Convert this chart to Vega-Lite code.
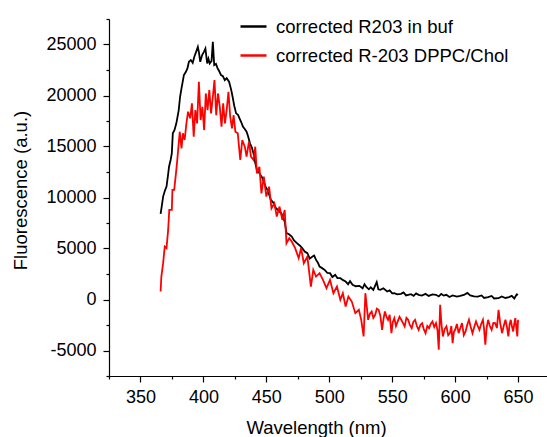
{
"$schema": "https://vega.github.io/schema/vega-lite/v6.json",
"width": 438, "height": 357,
"autosize": {"type": "none"},
"padding": {"left": 109, "top": 19, "right": 0, "bottom": 61},
"config": {"view": {"stroke": null}, "font": "Liberation Sans"},
"datasets": {
"b": [[366,8390],[367,9200],[368,10090],[369.5,10700],[370.7,11065],[372,12300],[372.7,13020],[374,13700],[374.9,14330],[375.7,16290],[377,16600],[378.5,17270],[380.4,18570],[381.5,19900],[382.6,20700],[384.5,22000],[386,22300],[387.3,22650],[388.5,23300],[390,23470],[391.5,23200],[392.8,23800],[394,24200],[395.6,24770],[396.5,24200],[397.5,23300],[399,23960],[400.5,24300],[401.6,24600],[403,23140],[404,23600],[405,23140],[406.5,23400],[407.5,25260],[408.6,22980],[410,23100],[411.3,22650],[412.5,22400],[414,22000],[415.5,21900],[417,21500],[418.5,21700],[420.4,21350],[422,20600],[423.2,19880],[424.5,19000],[426,18250],[427.5,18100],[428.7,17760],[430,17400],[431.5,16940],[433,16700],[434.3,16450],[435.5,16000],[437,15310],[438.5,14900],[439.8,14330],[441,13500],[442.5,12700],[444,12500],[445.3,12200],[447,11900],[449.4,11065],[451.5,10600],[453.6,9760],[455.5,9500],[457.7,8940],[460,8700],[461.9,8450],[463.5,8000],[464.6,7640],[466,6500],[468,6400],[470.2,6170],[472,5800],[474.3,5520],[476.5,5300],[478.5,5030],[480.5,4700],[482.6,4540],[484.5,4000],[486.7,4210],[488,4300],[489.5,3880],[491,3600],[492.3,3230],[494,3100],[496.4,2900],[498.5,2600],[500.6,2580],[502.5,2200],[504.7,2420],[506.5,2100],[508.8,2090],[511,1900],[513,1760],[515,1500],[516.5,1800],[518.5,1440],[521,1300],[524,1340],[526.5,1100],[528,1500],[529.6,1210],[531.5,1000],[533,1200],[535,950],[537.7,1710],[539,1000],[540.6,950],[543,1100],[546,780],[548,900],[550,600],[551.7,620],[554,500],[557,550],[559,700],[561,400],[562.7,460],[565,520],[567,350],[569,600],[571,460],[573.5,380],[576.5,550],[579,350],[582,500],[584.8,460],[587,300],[589,550],[591,380],[593,460],[595.5,250],[598,400],[601.4,290],[604,350],[607,450],[609.7,650],[612,400],[615,300],[618,290],[621,400],[623,150],[626.2,230],[629,350],[631,100],[634.5,130],[637,300],[640,150],[642.8,230],[645,350],[647,100],[649,500],[650,460]],
"r": [[366,780],[366.6,2250],[368,3560],[369.3,5190],[370.7,5030],[372,6820],[372.9,8780],[374.9,8780],[375.4,10740],[376.8,10740],[378.2,12370],[379,13350],[380.4,15310],[381.2,16450],[382.6,14820],[383.7,16290],[385.1,15640],[386.5,17270],[387.8,18410],[389.5,17760],[390.9,19230],[392.3,15960],[393.6,18570],[395,17270],[396.4,21350],[397.8,17590],[399.2,18900],[400.6,16610],[401.9,20200],[403.3,18570],[404.7,20530],[406.1,18250],[407.5,19880],[408.8,21510],[410.2,18080],[411.6,20200],[413,18900],[414.4,16940],[415.7,19230],[417.1,17270],[418.5,18570],[419.9,20370],[421.3,17920],[422.7,16780],[424,18080],[425.4,16450],[427.3,16290],[429.3,13680],[430.9,15640],[432.9,14980],[434.3,14000],[436.2,15470],[437.8,14000],[439.8,13680],[441.2,14980],[442.5,12370],[444.5,13020],[446.1,10410],[448,12040],[450,10090],[452.2,11065],[454.1,8940],[456.4,9430],[458.3,8130],[460.5,9110],[462.7,7800],[464.6,8780],[466,5520],[468.2,6010],[470.2,5680],[472.9,5030],[475.7,4050],[477.6,5030],[479.8,3560],[482.6,4210],[485.4,1270],[487.3,2900],[489.5,2250],[492.3,2580],[495,1930],[497.8,1110],[500.6,1930],[503.3,620],[506.1,1270],[508.8,-30],[510.8,620],[513,-690],[515.2,290],[517.9,-200],[520.7,-1340],[523.5,-1010],[525.4,-1990],[527.3,-3620],[528.7,620],[530.9,-1990],[532.3,-1400],[533.7,-1180],[535,-1800],[536.5,-1500],[537.8,-900],[539.2,-1010],[540.6,-1600],[542,-2970],[543.1,-1900],[544.2,-1180],[545.5,-1700],[546.7,-1990],[548,-1500],[549.4,-3300],[550.5,-2200],[551.7,-1830],[553,-2600],[554.4,-2150],[555.8,-1700],[557.2,-1990],[558.5,-2300],[559.9,-2640],[561.3,-1800],[562.7,-1990],[564,-2500],[565.5,-2810],[566.8,-2200],[568.2,-1990],[569.6,-2600],[571,-2970],[572.4,-2500],[573.8,-2320],[575.1,-2900],[576.5,-3300],[577.9,-2600],[579.3,-2810],[580.6,-2400],[582,-2150],[583.4,-2700],[584.8,-2320],[586,-3000],[587,-4930],[588.1,-520],[589.2,-2500],[590.3,-3620],[591.7,-2900],[593.1,-2640],[594.5,-3500],[595.9,-3300],[597,-2600],[598,-4280],[599,-3200],[600,-2970],[601.4,-2400],[602.8,-3300],[604.1,-2800],[605.5,-2320],[606.9,-3500],[608.3,-3130],[609.6,-2500],[611,-1990],[612.4,-2700],[613.8,-3300],[615.2,-2700],[616.6,-2150],[618,-2600],[619.3,-2970],[620.7,-2400],[622.1,-1990],[623,-2900],[624,-4440],[625,-2800],[626.2,-1990],[627.6,-2600],[629,-2970],[630.4,-2300],[631.8,-2320],[633.2,-2800],[634.5,-1010],[635.9,-2400],[637.3,-3300],[638.6,-2600],[640,-1990],[641.2,-2700],[642.3,-3620],[643.2,-2500],[644.2,-1990],[645.1,-2600],[646.1,-3130],[647,-2400],[647.8,-1830],[648.6,-2700],[649.4,-3620],[650,-1990]]
},
"layer": [
{
"data": {"name": "b"},
"transform": [{"calculate": "datum[0]", "as": "w"}, {"calculate": "datum[1]", "as": "v"}, {"calculate": "'corrected R203 in buf'", "as": "s"}],
"mark": {"type": "line", "strokeWidth": 1.8},
"encoding": {
"x": {"field": "w", "type": "quantitative"},
"y": {"field": "v", "type": "quantitative"},
"color": {"field": "s", "type": "nominal"}
}
},
{
"data": {"name": "r"},
"transform": [{"calculate": "datum[0]", "as": "w"}, {"calculate": "datum[1]", "as": "v"}, {"calculate": "'corrected R-203 DPPC/Chol'", "as": "s"}],
"mark": {"type": "line", "strokeWidth": 1.8},
"encoding": {
"x": {"field": "w", "type": "quantitative"},
"y": {"field": "v", "type": "quantitative"},
"color": {"field": "s", "type": "nominal"}
}
}
],
"encoding": {
"x": {"field": "w", "type": "quantitative",
"scale": {"domain": [325, 673], "nice": false, "zero": false},
"axis": {"title": "Wavelength (nm)", "values": [325,350,375,400,425,450,475,500,525,550,575,600,625,650],
"labelExpr": "datum.value % 50 == 0 ? '' + datum.value : ''",
"grid": false, "domainColor": "#000", "domainWidth": 1.2, "tickColor": "#000", "tickWidth": 1.2,
"tickSize": {"condition": {"test": "datum.value % 50 == 0", "value": 6}, "value": 3},
"labelFontSize": 18, "labelColor": "#000", "labelPadding": 6, "labelFlush": false,
"titleFontSize": 18.5, "titleFontWeight": "normal", "titleColor": "#000",
"titleX": 207, "titleY": 57, "titleBaseline": "alphabetic", "titleAlign": "center"}},
"y": {"field": "v", "type": "quantitative",
"scale": {"domain": [-7500, 27500], "nice": false, "zero": false},
"axis": {"title": "Fluorescence (a.u.)", "values": [-7500,-5000,-2500,0,2500,5000,7500,10000,12500,15000,17500,20000,22500,25000,27500],
"labelExpr": "datum.value % 5000 == 0 ? '' + datum.value : ''",
"grid": false, "domainColor": "#000", "domainWidth": 1.2, "tickColor": "#000", "tickWidth": 1.2,
"tickSize": {"condition": {"test": "datum.value % 5000 == 0", "value": 6}, "value": 3},
"labelFontSize": 18, "labelColor": "#000", "labelPadding": 7, "labelFlush": false,
"titleFontSize": 18.5, "titleFontWeight": "normal", "titleColor": "#000",
"titleX": -83, "titleY": 171, "titleAngle": -90, "titleBaseline": "alphabetic", "titleAlign": "center"}},
"color": {"field": "s", "type": "nominal",
"scale": {"domain": ["corrected R203 in buf", "corrected R-203 DPPC/Chol"], "range": ["#000000", "#ff0000"]},
"legend": {"title": null, "orient": "none", "legendX": 130, "legendY": -7, "padding": 0,
"symbolType": "stroke", "symbolSize": 676, "symbolStrokeWidth": 2.5,
"labelFontSize": 18.5, "labelColor": "#000", "labelOffset": 8, "rowPadding": 5, "labelLimit": 400}}
}
}
